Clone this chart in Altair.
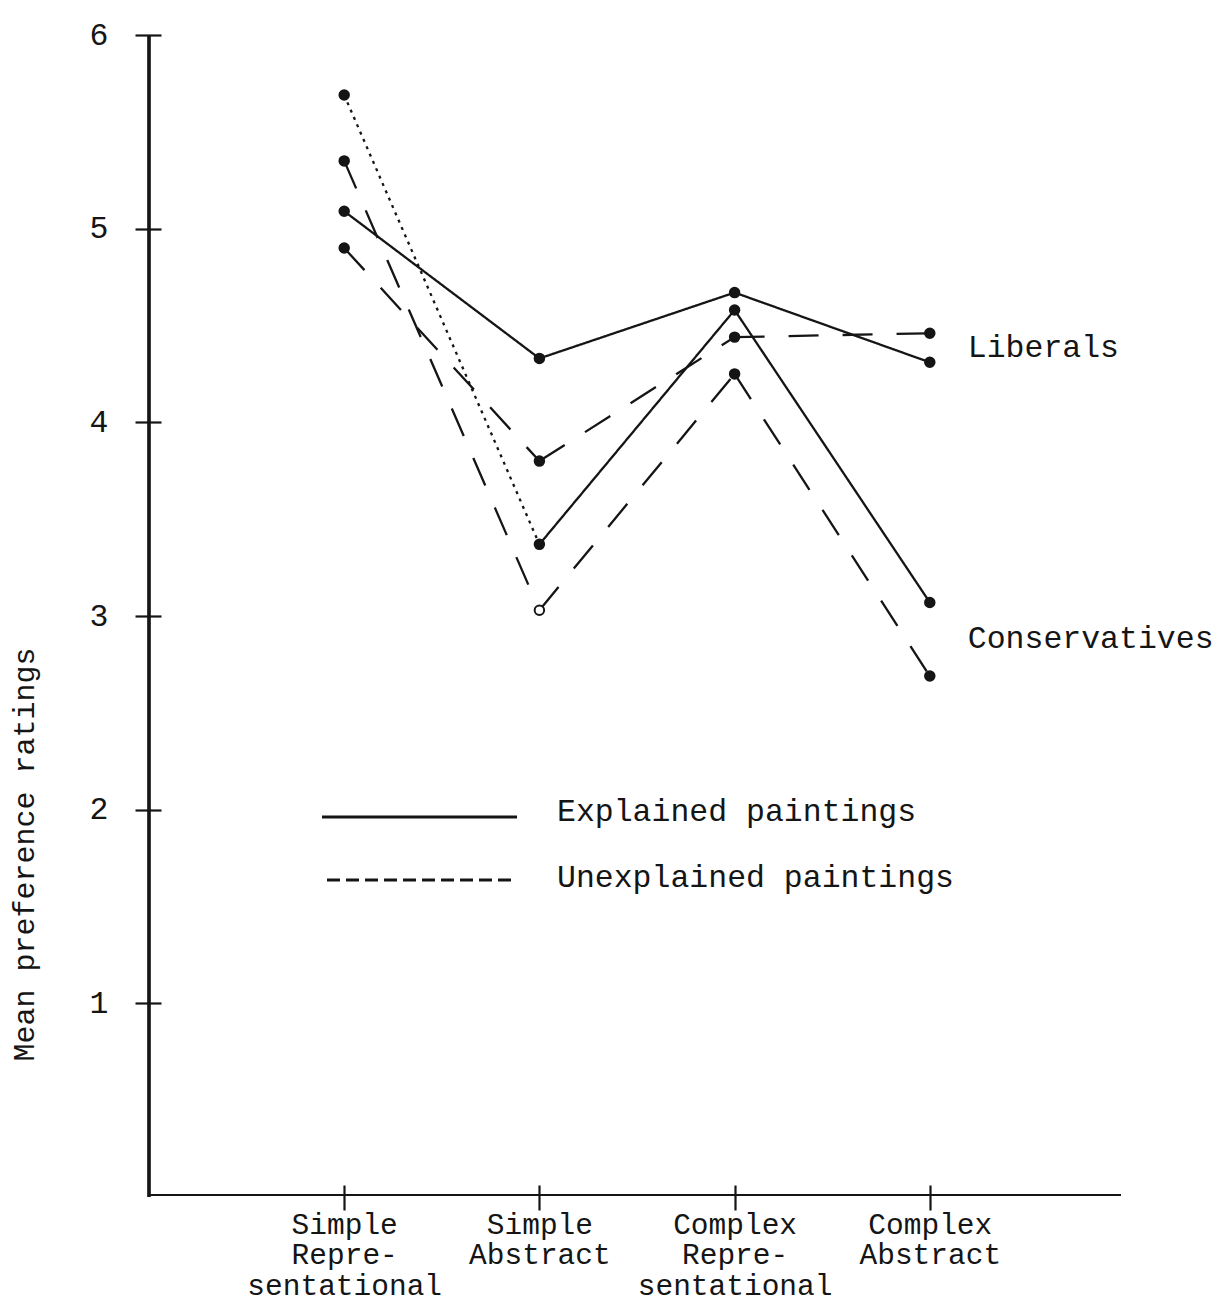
import json
import altair as alt
import pandas as pd

# ---------------- data ----------------
categories = ["Simple Representational", "Simple Abstract",
              "Complex Representational", "Complex Abstract"]
category_lines = [["Simple", "Repre-", "sentational"],
                  ["Simple", "Abstract"],
                  ["Complex", "Repre-", "sentational"],
                  ["Complex", "Abstract"]]
category_pos = [1, 2, 3, 4]

liberals_explained = [5.09, 4.33, 4.67, 4.31]
liberals_unexplained = [4.90, 3.80, 4.44, 4.46]
conservatives_explained = [5.69, 3.37, 4.58, 3.07]
conservatives_unexplained = [5.35, 3.03, 4.25, 2.69]

groups = ["Liberals", "Conservatives"]
conditions = ["Explained", "Unexplained"]
legend_labels = ["Explained paintings", "Unexplained paintings"]
y_ticks = [1, 2, 3, 4, 5, 6]
y_title = "Mean preference ratings"

series = {
    ("Liberals", "Explained"): liberals_explained,
    ("Liberals", "Unexplained"): liberals_unexplained,
    ("Conservatives", "Explained"): conservatives_explained,
    ("Conservatives", "Unexplained"): conservatives_unexplained,
}
# hand-drawn segment that appears dotted in the original
segment_overrides = {("Conservatives", "Explained", 0): "dotted"}
# point drawn as an open circle in the original
open_points = {("Conservatives", "Unexplained", 1)}

# ---------------- styling / layout ----------------
FONT = "Liberation Mono"
INK = "#151515"
FS = 31.5
W, H = 976, 1162
style_of = {"Explained": "solid", "Unexplained": "dashed"}

seg_rows, pt_rows = [], []
for (g, c), vals in series.items():
    for i in range(len(vals) - 1):
        st = segment_overrides.get((g, c, i), style_of[c])
        sid = f"{g}-{c}-{i}"
        seg_rows.append({"seg": sid, "x": category_pos[i], "y": vals[i], "style": st})
        seg_rows.append({"seg": sid, "x": category_pos[i + 1], "y": vals[i + 1], "style": st})
    for i, v in enumerate(vals):
        pt_rows.append({"x": category_pos[i], "y": v,
                        "hollow": (g, c, i) in open_points})
segs = pd.DataFrame(seg_rows)
pts = pd.DataFrame(pt_rows)

grp = pd.DataFrame({
    "group": groups,
    "x": [category_pos[-1]] * len(groups),
    "y": [sum(series[(g, c)][-1] for c in conditions) / len(conditions) for g in groups],
})

legend_df = pd.DataFrame({
    "label": legend_labels,
    "lstyle": ["typed_solid", "typed_dash"],
    "x0": [173, 178], "x1": [368, 368], "yl": [782, 845],
    "xt": [408, 408], "yt": [777, 843],
})

label_expr = json.dumps(category_lines) + "[datum.value - 1]"

x_enc = alt.X("x:Q",
              scale=alt.Scale(domain=[0, 5], nice=False, zero=False),
              axis=alt.Axis(values=category_pos, labelExpr=label_expr, title=None,
                            grid=False, domain=False, tickSize=25, tickWidth=2.2,
                            tickColor=INK, offset=-12, labelPadding=0,
                            labelFontSize=29.5, labelLineHeight=30.6, labelColor=INK,
                            labelFont=FONT, labelAlign="center", labelBaseline="top",
                            labelOverlap=False, labelFlush=False, labelLimit=0))
y_enc = alt.Y("y:Q",
              scale=alt.Scale(domain=[0, 6], nice=False, zero=True),
              axis=alt.Axis(values=y_ticks, title=y_title, grid=False, domain=False,
                            tickSize=26, tickWidth=2.2, tickColor=INK, offset=-12,
                            labelPadding=27, labelFontSize=FS, labelColor=INK,
                            labelFont=FONT, labelBaseline="middle",
                            titleFont=FONT, titleFontSize=30, titleFontWeight="normal",
                            titleColor=INK, titleAngle=270, titleX=-128, titleY=819,
                            titleBaseline="alphabetic", titleAlign="center"))

dash_scale = alt.Scale(domain=["solid", "dashed", "dotted"],
                       range=[[1, 0], [30, 24], [3, 5]])
width_scale = alt.Scale(domain=["solid", "dashed", "dotted"], range=[2.3, 2.3, 1.4])

lines = alt.Chart(segs).mark_line(color=INK).encode(
    x=x_enc, y=y_enc, detail="seg:N",
    strokeDash=alt.StrokeDash("style:N", scale=dash_scale, legend=None),
    strokeWidth=alt.StrokeWidth("style:N", scale=width_scale, legend=None),
)

points = alt.Chart(pts).mark_point(filled=True, size=90, stroke=INK, strokeWidth=2,
                                   opacity=1).encode(
    x=x_enc, y=y_enc,
    fill=alt.condition("datum.hollow", alt.value("white"), alt.value(INK)),
)

group_text = alt.Chart(grp).mark_text(align="left", baseline="middle", dx=38,
                                      font=FONT, fontSize=FS, color=INK).encode(
    x=x_enc, y=y_enc, text="group:N")

leg_lines = alt.Chart(legend_df).mark_rule(color=INK, strokeWidth=3).encode(
    x=alt.X("x0:Q", scale=None), x2="x1:Q", y=alt.Y("yl:Q", scale=None),
    strokeDash=alt.StrokeDash("lstyle:N",
                              scale=alt.Scale(domain=["typed_solid", "typed_dash"],
                                              range=[[1, 0], [13, 6]]),
                              legend=None),
)
leg_text = alt.Chart(legend_df).mark_text(align="left", baseline="middle", font=FONT,
                                          fontSize=FS, color=INK).encode(
    x=alt.X("xt:Q", scale=None), y=alt.Y("yt:Q", scale=None), text="label:N")

y_domain = alt.Chart(pts).mark_rule(color=INK, strokeWidth=2.2).encode(
    x=alt.value(0), y=alt.value(0), y2=alt.value(H))
x_domain = alt.Chart(pts).mark_rule(color=INK, strokeWidth=2.2).encode(
    x=alt.value(0), x2=alt.value(W - 4), y=alt.value(H - 2))

chart = alt.layer(
    y_domain, x_domain, lines, points, group_text, leg_lines, leg_text
).resolve_scale(
    strokeDash="independent", strokeWidth="independent"
).properties(
    width=W, height=H,
    autosize=alt.AutoSizeParams(type="none"),
    padding={"left": 141, "top": 27, "right": 91, "bottom": 106},
    background="white",
).configure_view(stroke=None)

chart.save("out.html", embed_options={"renderer": "svg", "actions": False})
